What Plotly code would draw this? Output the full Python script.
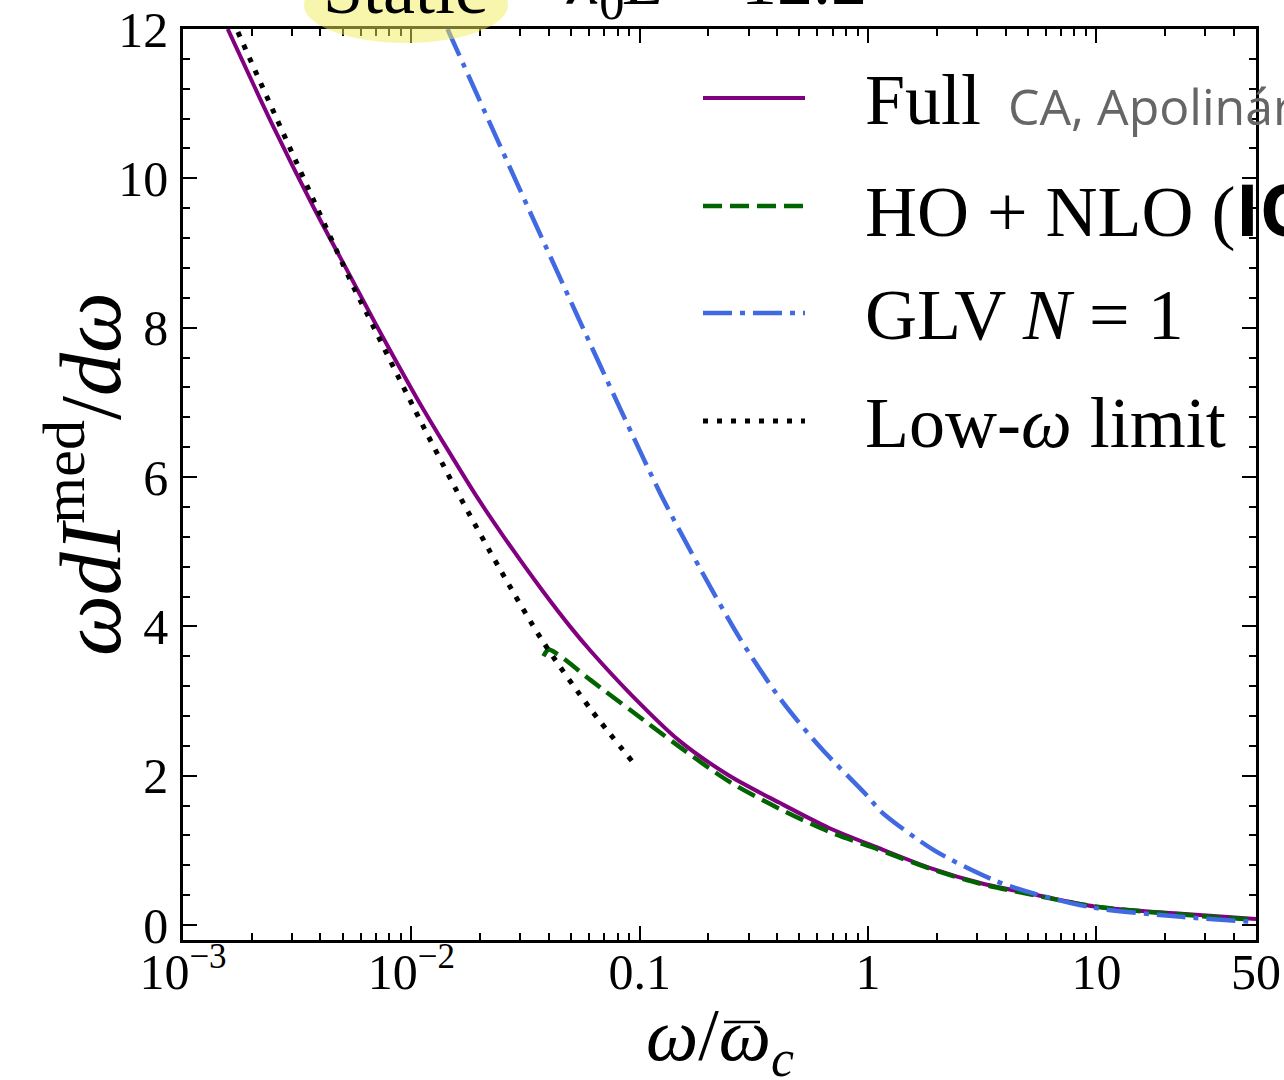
import plotly.graph_objects as go

# ---------------- data ----------------
full_w = [1.57e-3, 2.48e-3, 3.72e-3, 5.4e-3, 6.81e-3, 0.0106, 0.0144, 0.0195, 0.0254, 0.0379,
          0.0498, 0.061, 0.0928, 0.149, 0.247, 0.408, 0.675, 1.116, 1.89, 3.13, 5.35, 9.8, 23.6, 50]
full_v = [12.0, 10.70, 9.62, 8.69, 8.11, 7.05, 6.37, 5.72, 5.20, 4.46,
          3.99, 3.67, 3.07, 2.47, 2.00, 1.64, 1.30, 1.03, 0.76, 0.56, 0.41, 0.25, 0.15, 0.08]

ho_w = [0.0379, 0.0399, 0.0436, 0.0483, 0.061, 0.0928, 0.149, 0.247, 0.408, 0.675,
        1.116, 1.89, 3.13, 5.35, 9.8, 23.6, 50]
ho_v = [3.60, 3.69, 3.63, 3.53, 3.28, 2.86, 2.39, 1.92, 1.56, 1.25,
        1.01, 0.75, 0.55, 0.40, 0.25, 0.14, 0.07]

glv_w = [0.0144, 0.0246, 0.0368, 0.0535, 0.0826, 0.124, 0.185, 0.277, 0.415, 0.622,
         1.0, 1.14, 1.95, 3.57, 5.35, 9.8, 23.6, 50]
glv_v = [12.0, 10.42, 9.24, 8.15, 6.90, 5.76, 4.76, 3.82, 3.02, 2.37,
         1.72, 1.52, 1.00, 0.60, 0.42, 0.23, 0.11, 0.04]

low_w = [1.74e-3, 2.58e-3, 5.57e-3, 6.41e-3, 0.0102, 0.0159, 0.0246, 0.038, 0.061, 0.094]
low_v = [11.96, 10.79, 8.55, 8.18, 6.94, 5.80, 4.75, 3.78, 2.89, 2.17]

series_names = ["Full",
                "HO + NLO (<span style=\"font-family:'Open Sans'\"><b>IOE</b></span>)",
                "GLV <i>N</i> = 1", "Low-<i>ω</i> limit"]
series_colors = ["#800080", "#006400", "#4169E1", "#000000"]
series_dash = ["solid", "19px,8px", "29px,8px,5px,8px", "5px,9px"]
series_width = [4, 4.5, 4.5, 5]

x_tickvals = [1e-3, 1e-2, 0.1, 1, 10, 50]
x_ticktext = ["10<sup>−3</sup>", "10<sup>−2</sup>", "0.1", "1", "10", "50"]
y_tickvals = [0, 2, 4, 6, 8, 10, 12]

# ---------------- layout geometry ----------------
W, H = 1284, 1080
L, R, T, B = 183, 28, 29, 140
PW = W - L - R
PH = H - T - B


def px2x(px):
    return (px - L) / PW


def py2y(py):
    return (H - B - py) / PH


SERIF = "Liberation Serif, Times New Roman, serif"

fig = go.Figure()
data = [(full_w, full_v), (ho_w, ho_v), (glv_w, glv_v), (low_w, low_v)]
for (xw, yv), name, col, dash, wd in zip(data, series_names, series_colors, series_dash, series_width):
    fig.add_trace(go.Scatter(x=xw, y=yv, mode="lines", name=name,
                             line=dict(color=col, width=wd, dash=dash, shape="spline", smoothing=0.8),
                             showlegend=False))

minor_x = []
for k in range(-3, 2):
    for d in range(2, 10):
        v = d * 10 ** k
        if v < 50:
            minor_x.append(v)

fig.update_layout(
    width=W, height=H,
    margin=dict(l=L, r=R, t=T, b=B, pad=0, autoexpand=False),
    paper_bgcolor="white", plot_bgcolor="white",
    font=dict(family=SERIF, color="black", size=50),
    xaxis=dict(type="log", range=[-3, 1.69897], showgrid=False, zeroline=False, automargin=False,
               showline=True, linecolor="black", linewidth=2.5, mirror="allticks",
               ticks="inside", ticklen=14, tickwidth=1.8, tickcolor="black",
               tickmode="array", tickvals=x_tickvals, ticktext=x_ticktext,
               tickfont=dict(size=50, family=SERIF), ticklabelstandoff=-14,
               minor=dict(ticks="inside", ticklen=7, tickwidth=1.5, tickcolor="black",
                          tickmode="array", tickvals=minor_x, showgrid=False)),
    yaxis=dict(range=[-0.2, 12], showgrid=False, zeroline=False, automargin=False,
               showline=True, linecolor="black", linewidth=2.5, mirror="allticks",
               ticks="inside", ticklen=14, tickwidth=1.8, tickcolor="black",
               tickmode="array", tickvals=y_tickvals,
               tickfont=dict(size=50, family=SERIF), ticklabelstandoff=2,
               minor=dict(ticks="inside", ticklen=7, tickwidth=1.5, tickcolor="black",
                          dtick=0.4, tick0=0, showgrid=False)),
)

# axis titles
fig.add_annotation(xref="paper", yref="paper", x=px2x(84), y=py2y(474),
                   text="<i>ωdI</i><sup>med</sup>/<i>dω</i>", showarrow=False,
                   textangle=-90, xanchor="center", yanchor="middle",
                   font=dict(size=86, family=SERIF))
fig.add_annotation(xref="paper", yref="paper", x=px2x(720), y=py2y(1040),
                   text="<i>ω</i>/<i>ω</i><sub><i>c</i></sub>", showarrow=False,
                   xanchor="center", yanchor="middle",
                   font=dict(size=74, family=SERIF))
# macron over the second omega
fig.add_shape(type="line", xref="paper", yref="paper",
              x0=px2x(724), x1=px2x(760), y0=py2y(1022), y1=py2y(1022),
              line=dict(color="black", width=2.5), layer="above")

# highlighted "Static" label (clipped at the top of the page)
fig.add_shape(type="circle", xref="paper", yref="paper",
              x0=px2x(304), x1=px2x(508), y0=py2y(43), y1=py2y(-33),
              fillcolor="#f2ec5a", opacity=0.5, line=dict(width=0), layer="above")
fig.add_annotation(xref="paper", yref="paper", x=px2x(405), y=py2y(14 - 25),
                   text="Static", showarrow=False, xanchor="center", yanchor="middle",
                   font=dict(size=72, family=SERIF))
fig.add_annotation(xref="paper", yref="paper", x=px2x(564), y=py2y(10 - 25),
                   text="<i>λ</i><sub>0</sub><i>L</i> = 12.2", showarrow=False,
                   xanchor="left", yanchor="middle",
                   font=dict(size=72, family=SERIF))

# legend (manual)
leg_y = [98, 206, 313, 421]
for name, col, dash, wd, ly in zip(series_names, series_colors, series_dash, series_width, leg_y):
    fig.add_shape(type="line", xref="paper", yref="paper",
                  x0=px2x(703), x1=px2x(805), y0=py2y(ly), y1=py2y(ly),
                  line=dict(color=col, width=wd, dash=dash), layer="above")
    fig.add_annotation(xref="paper", yref="paper", x=px2x(863), y=py2y(ly + 2),
                       text=name, showarrow=False, xanchor="left", yanchor="middle",
                       font=dict(size=72, family=SERIF))

fig.add_annotation(xref="paper", yref="paper", x=px2x(1006), y=py2y(106),
                   text="CA, Apolinário", showarrow=False, xanchor="left", yanchor="middle",
                   font=dict(size=50, family="Open Sans, sans-serif", color="#666666"))

fig.write_html("out.html")
